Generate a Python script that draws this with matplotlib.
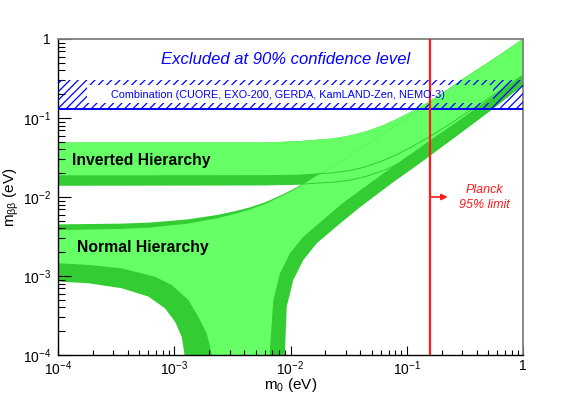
import matplotlib
matplotlib.use('Agg')
import matplotlib.pyplot as plt
from matplotlib.ticker import FixedLocator, FixedFormatter, LogLocator, NullFormatter


# lightest neutrino mass m0 (eV) and effective Majorana mass m_bb (eV)
# inverted hierarchy: upper edge, best-fit lower edge, 3 sigma lower edge
ih_top_m0 = [1e-4, 1.7e-3, 6.2e-3, 0.012, 0.023, 0.0325, 0.045, 0.0625, 0.082, 0.11,
             0.16, 0.22, 0.30, 0.60, 1.0]
ih_top_mbb = [0.049, 0.049, 0.049, 0.051, 0.055, 0.060, 0.068, 0.081, 0.097, 0.121,
              0.166, 0.224, 0.31, 0.60, 1.0]

ih_lo_m0 = [1e-4, 6e-3, 0.012, 0.023, 0.0325, 0.045, 0.0625, 0.082, 0.11, 0.16, 0.22,
            0.30, 0.60, 1.0]
ih_light_lo_mbb = [0.0185, 0.0186, 0.0189, 0.0202, 0.0216, 0.0243, 0.0288, 0.0345, 0.043,
                   0.059, 0.079, 0.107, 0.21, 0.35]
ih_dark_lo_mbb = [0.0141, 0.0142, 0.0145, 0.0154, 0.0163, 0.0183, 0.0215, 0.0258, 0.032,
                  0.0439, 0.059, 0.0795, 0.157, 0.26]

# normal hierarchy: upper edges
nh_up_m0 = [1e-4, 3.5e-4, 6.2e-4, 1.3e-3, 2.3e-3, 3.3e-3, 4.5e-3, 6.2e-3, 8.6e-3, 0.0113,
            0.014, 0.0168, 0.0232, 0.045, 0.082, 0.16, 0.30, 0.60, 1.0]
nh_light_up_mbb = [3.8e-3, 3.95e-3, 4.1e-3, 4.6e-3, 5.35e-3, 6.1e-3, 6.95e-3, 8.3e-3, 0.0104,
                   0.0129, 0.0157, 0.0186, 0.0243, 0.046, 0.082, 0.16, 0.30, 0.60, 1.0]
nh_dark_up_mbb = [4.5e-3, 4.6e-3, 4.75e-3, 5.2e-3, 5.9e-3, 6.6e-3, 7.4e-3, 8.7e-3, 0.0108,
                  0.0133, 0.0160, 0.0188, 0.0243, 0.046, 0.082, 0.16, 0.30, 0.60, 1.0]

# normal hierarchy: lower edges (the funnel drops below the axis)
nh_light_lo_m0 = [1e-4, 1.82e-4, 3.53e-4, 6.83e-4, 9.5e-4, 1.32e-3, 1.61e-3, 1.90e-3, 2.10e-3,
                  2.2e-3, 6.4e-3, 6.66e-3, 7.11e-3, 8.12e-3, 9.9e-3, 0.0129, 0.0205, 0.0285,
                  0.0396, 0.055, 0.0766, 0.107, 0.16, 0.22, 0.30, 0.60, 1.0]
nh_light_lo_mbb = [1.45e-3, 1.38e-3, 1.25e-3, 9.8e-4, 7.7e-4, 5.0e-4, 3.05e-4, 1.88e-4, 1.05e-4,
                   3e-5, 3e-5, 1.16e-4, 4.97e-4, 1.08e-3, 1.94e-3, 3.14e-3, 5.63e-3, 8.5e-3,
                   0.0121, 0.0172, 0.0245, 0.0345, 0.0525, 0.0725, 0.100, 0.205, 0.35]

nh_dark_lo_m0 = [1e-4, 1.82e-4, 3.53e-4, 5.98e-4, 8.32e-4, 1.015e-3, 1.16e-3, 1.22e-3, 1.26e-3,
                 8.85e-3, 8.97e-3, 9.28e-3, 0.01057, 0.01289, 0.0168, 0.0285, 0.040, 0.0551,
                 0.077, 0.107, 0.16, 0.22, 0.30, 0.60, 1.0]
nh_dark_lo_mbb = [8.5e-4, 8.1e-4, 7.0e-4, 5.5e-4, 3.9e-4, 2.64e-4, 1.70e-4, 1.05e-4, 3e-5,
                  3e-5, 1.16e-4, 4.09e-4, 8.9e-4, 1.59e-3, 2.59e-3, 5.0e-3, 7.5e-3, 0.0107,
                  0.0155, 0.0218, 0.0335, 0.0475, 0.0665, 0.143, 0.26]

# experimental limits
excluded_low = 0.13
excluded_high = 0.30
planck_limit = 0.16

tick_values = [1e-4, 1e-3, 1e-2, 1e-1, 1]
tick_labels = ['$10^{-4}$', '$10^{-3}$', '$10^{-2}$', '$10^{-1}$', '1']

LIGHT = '#66ff66'
DARK = '#33cc33'


def band(ax, lo_x, lo_y, up_x, up_y, color, z):
    xs = list(lo_x) + list(up_x[::-1])
    ys = list(lo_y) + list(up_y[::-1])
    ax.fill(xs, ys, color=color, lw=0, zorder=z)


def main():
    plt.rcParams['font.family'] = ['Liberation Sans', 'DejaVu Sans']
    plt.rcParams['mathtext.fontset'] = 'custom'
    plt.rcParams['mathtext.rm'] = 'Liberation Sans'
    plt.rcParams['mathtext.it'] = 'Liberation Sans:italic'
    plt.rcParams['mathtext.bf'] = 'Liberation Sans:bold'
    plt.rcParams['hatch.color'] = 'blue'
    plt.rcParams['hatch.linewidth'] = 0.9

    fig = plt.figure(figsize=(5.81, 3.95), dpi=100)
    ax = fig.add_axes([58 / 581, 1 - 355 / 395, 465 / 581, 316 / 395])
    ax.set_xscale('log')
    ax.set_yscale('log')

    band(ax, ih_lo_m0, ih_dark_lo_mbb, ih_top_m0, ih_top_mbb, DARK, 1)
    band(ax, ih_lo_m0, ih_light_lo_mbb, ih_top_m0, ih_top_mbb, LIGHT, 1.1)
    band(ax, nh_dark_lo_m0, nh_dark_lo_mbb, nh_up_m0, nh_dark_up_mbb, DARK, 1.2)
    band(ax, nh_light_lo_m0, nh_light_lo_mbb, nh_up_m0, nh_light_up_mbb, LIGHT, 1.3)
    ax.plot(ih_lo_m0, ih_light_lo_mbb, color=DARK, lw=0.7, zorder=1.4)
    ax.plot(ih_lo_m0, ih_dark_lo_mbb, color=DARK, lw=0.7, zorder=1.4)

    # excluded band, hatched around the text box
    box_x0, box_x1 = 1.79e-4, 0.552
    box_y0, box_y1 = 0.153, 0.259
    hatch = dict(hatch='////', facecolor='none', edgecolor='blue', lw=0, zorder=3)
    ax.fill_between([1e-4, 1], box_y1, excluded_high, **hatch)
    ax.fill_between([1e-4, 1], excluded_low, box_y0, **hatch)
    ax.fill_between([1e-4, box_x0], box_y0, box_y1, **hatch)
    ax.fill_between([box_x1, 1], box_y0, box_y1, **hatch)
    ax.axhline(excluded_low, color='blue', lw=1.4, zorder=3.1)

    ax.axvline(planck_limit, color='#ff1a1a', lw=1.6, zorder=4)
    ax.annotate('', xy=(0.225, 1e-2), xytext=(planck_limit, 1e-2),
                arrowprops=dict(arrowstyle='-|>', color='#ff1a1a', lw=1.2,
                                mutation_scale=9, shrinkA=0, shrinkB=0), zorder=4)

    ax.set_xlim(1e-4, 1)
    ax.set_ylim(1e-4, 1)
    for axis in (ax.xaxis, ax.yaxis):
        axis.set_major_locator(FixedLocator(tick_values))
        axis.set_major_formatter(FixedFormatter(tick_labels))
        axis.set_minor_locator(LogLocator(base=10, subs=range(2, 10), numticks=20))
        axis.set_minor_formatter(NullFormatter())
    ax.tick_params(axis='both', which='both', direction='in', top=False, right=False,
                   labelsize=10, width=0.8)
    ax.tick_params(axis='y', which='major', length=9.4, pad=5)
    ax.tick_params(axis='y', which='minor', length=4.8)
    ax.tick_params(axis='x', which='major', length=6.5, pad=3)
    ax.tick_params(axis='x', which='minor', length=3.3)

    for side in ('top', 'right'):
        ax.spines[side].set_color('#808080')
        ax.spines[side].set_linewidth(1.3)
    for side in ('left', 'bottom'):
        ax.spines[side].set_linewidth(1.0)

    ax.set_xlabel('m$_{0}$ (eV)', fontsize=11)
    ax.set_ylabel(r'm$_{\mathrm{\beta\beta}}$ (eV)', fontsize=11)
    ax.xaxis.set_label_coords(0.5, -0.068)
    ax.yaxis.set_label_coords(-0.08, 0.5)

    fig.text(161 / 581, 1 - 64.3 / 395, 'Excluded at 90% confidence level', color='blue',
             style='italic', fontsize=12, ha='left', va='baseline')
    fig.text(111 / 581, 1 - 98 / 395, 'Combination (CUORE, EXO-200, GERDA, KamLAND-Zen, NEMO-3)',
             color='blue', fontsize=7.8, ha='left', va='baseline')
    fig.text(72.3 / 581, 1 - 164.7 / 395, 'Inverted Hierarchy', fontweight='bold',
             fontsize=11.3, ha='left', va='baseline')
    fig.text(76.7 / 581, 1 - 252.3 / 395, 'Normal Hierarchy', fontweight='bold',
             fontsize=11.3, ha='left', va='baseline')
    fig.text(484 / 581, 1 - 193.3 / 395, 'Planck', color='#ff1a1a', style='italic',
             fontsize=9, ha='center', va='baseline')
    fig.text(484.5 / 581, 1 - 208.3 / 395, '95% limit', color='#ff1a1a', style='italic',
             fontsize=9, ha='center', va='baseline')

    fig.savefig('out.png', dpi=100)


if __name__ == '__main__':
    main()
